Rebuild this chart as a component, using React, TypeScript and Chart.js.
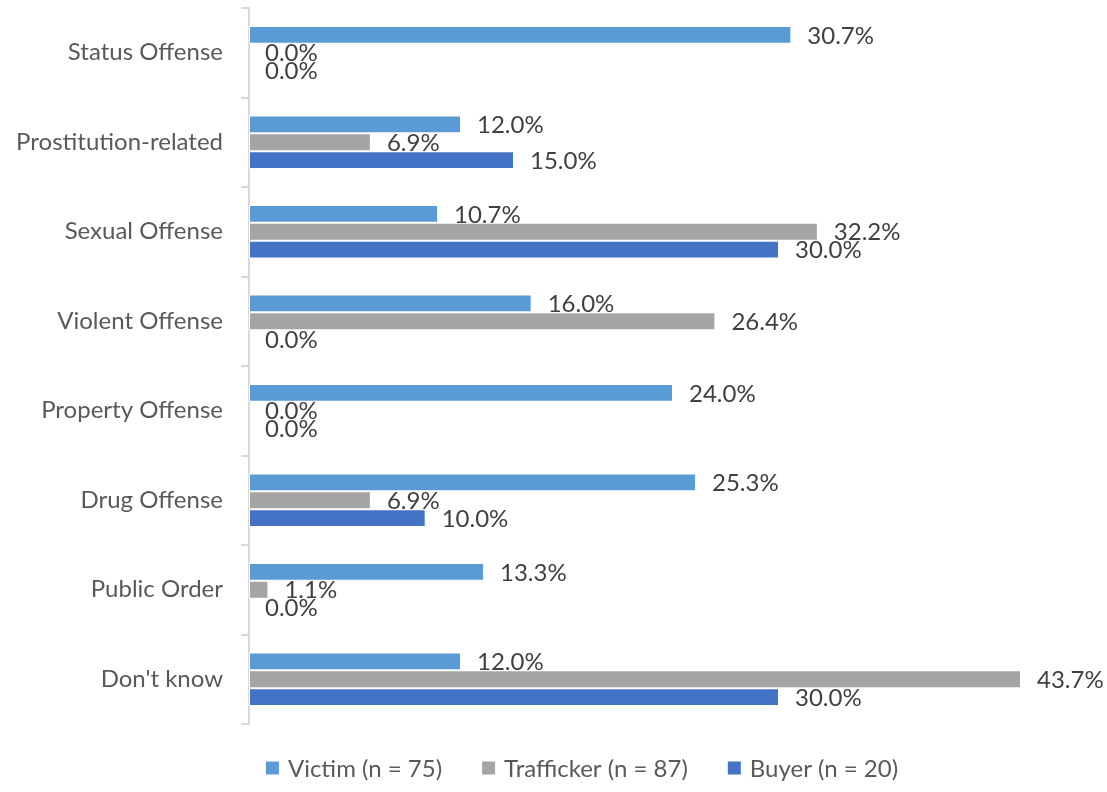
import React, { useEffect, useRef } from "react";
import { Chart, registerables } from "chart.js";
Chart.register(...registerables);

const categories = [
  "Status Offense",
  "Prostitution-related",
  "Sexual Offense",
  "Violent Offense",
  "Property Offense",
  "Drug Offense",
  "Public Order",
  "Don't know",
];
const victim = [30.7, 12.0, 10.7, 16.0, 24.0, 25.3, 13.3, 12.0];
const trafficker = [0.0, 6.9, 32.2, 26.4, 0.0, 6.9, 1.1, 43.7];
const buyer = [0.0, 15.0, 30.0, 0.0, 0.0, 10.0, 0.0, 30.0];
const seriesNames = ["Victim (n = 75)", "Trafficker (n = 87)", "Buyer (n = 20)"];
const seriesColors = ["#5B9BD5", "#A5A5A5", "#4472C4"];

const FONT = "Lato";
const FS = 24;

const dataLabelPlugin = {
  id: "dataLabels",
  afterDatasetsDraw(chart: any) {
    const ctx = chart.ctx;
    ctx.save();
    ctx.font = `${FS}px ${FONT}`;
    ctx.fillStyle = "#404040";
    ctx.textBaseline = "middle";
    ctx.textAlign = "left";
    chart.data.datasets.forEach((ds: any, i: number) => {
      const meta = chart.getDatasetMeta(i);
      meta.data.forEach((el: any, j: number) => {
        const v = ds.data[j] as number;
        ctx.fillText(v.toFixed(1) + "%", el.x + 16, el.y + 1);
      });
    });
    ctx.restore();
  },
};

const legendPlugin = {
  id: "customLegend",
  afterDraw(chart: any) {
    const ctx = chart.ctx;
    ctx.save();
    ctx.font = `${FS}px ${FONT}`;
    ctx.textBaseline = "middle";
    ctx.textAlign = "left";
    const y = 768;
    const box = 13;
    const gapText = 9;
    const gapItems = 40;
    let total = 0;
    const widths = chart.data.datasets.map((ds: any) => ctx.measureText(ds.label).width);
    widths.forEach((w: number, i: number) => {
      total += box + gapText + w + (i < widths.length - 1 ? gapItems : 0);
    });
    let x = 582 - total / 2;
    chart.data.datasets.forEach((ds: any, i: number) => {
      ctx.fillStyle = ds.backgroundColor;
      ctx.fillRect(x, y - box / 2, box, box);
      ctx.fillStyle = "#595959";
      ctx.fillText(ds.label, x + box + gapText, y + 1);
      x += box + gapText + widths[i] + gapItems;
    });
    ctx.restore();
  },
};

export default function App() {
  const ref = useRef<HTMLCanvasElement>(null);
  useEffect(() => {
    const series = [victim, trafficker, buyer];
    const chart = new Chart(ref.current!, {
      type: "bar",
      data: {
        labels: categories,
        datasets: series.map((d, i) => ({
          label: seriesNames[i],
          data: d,
          backgroundColor: seriesColors[i],
          borderColor: "#FFFFFF",
          borderWidth: 1,
          borderSkipped: false,
          categoryPercentage: 0.6,
          barPercentage: 1.0,
        })),
      },
      options: {
        indexAxis: "y",
        responsive: false,
        animation: false,
        layout: { padding: { top: 8, right: 63, bottom: 68, left: 0 } },
        plugins: {
          legend: { display: false },
          tooltip: { enabled: false },
        },
        scales: {
          x: {
            display: false,
            min: 0,
            max: 45,
          },
          y: {
            afterFit: (s: any) => {
              s.width = 249;
              s.paddingTop = 0;
              s.paddingBottom = 0;
            },
            grid: {
              display: true,
              drawOnChartArea: false,
              drawTicks: true,
              tickLength: 8,
              color: "#D9D9D9",
              lineWidth: 2,
              offset: true,
            },
            border: { display: true, color: "#D9D9D9", width: 2 },
            ticks: {
              color: "#595959",
              font: { family: FONT, size: FS },
              padding: 18,
            },
          },
        },
      },
      plugins: [dataLabelPlugin, legendPlugin],
    });
    return () => chart.destroy();
  }, []);
  return (
    <div style={{ position: "fixed", left: 0, top: 0, width: 1107, height: 792, background: "#fff" }}>
      <canvas ref={ref} width={1107} height={792} style={{ width: 1107, height: 792 }} />
    </div>
  );
}
